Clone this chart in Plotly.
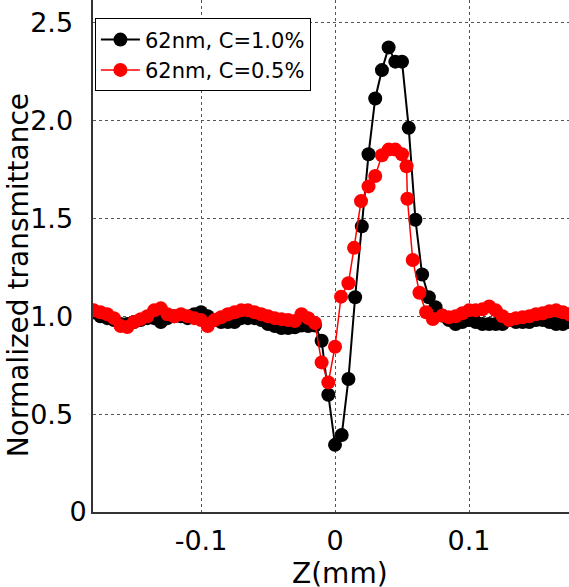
import plotly.graph_objects as go

# Z positions (mm)
z_black = [round(-0.18 + 0.005 * i, 3) for i in range(72)]
t_black = [
    1.02, 1.00, 0.99, 0.98, 0.96, 0.96, 0.97, 0.98, 0.99, 0.99,
    0.97, 0.99, 1.00, 1.00, 0.99, 1.01, 1.02, 1.00, 0.98, 0.97,
    0.97, 0.97, 0.99, 0.99, 0.99, 0.98, 0.96, 0.95, 0.94, 0.94,
    0.943, 0.952, 0.95, 0.952, 0.875, 0.599, 0.343, 0.393, 0.679, 1.097,
    1.459, 1.827, 2.112, 2.257, 2.373, 2.30, 2.30, 1.962, 1.493, 1.213,
    1.097, 1.046, 1.003, 0.98, 0.96, 0.97, 0.98, 0.97, 0.96, 0.96,
    0.96, 0.96, 0.98, 0.97, 0.97, 0.97, 0.98, 0.98, 0.97, 0.96,
    0.96, 0.97,
]

z_red = [round(-0.18 + 0.005 * i, 3) for i in range(34)] + [
    -0.01, -0.005, 0.0, 0.0045, 0.01, 0.0142, 0.0194, 0.025, 0.03, 0.035,
    0.04, 0.045, 0.05, 0.0534, 0.054, 0.058, 0.063, 0.068, 0.073, 0.08,
] + [round(0.085 + 0.005 * i, 3) for i in range(19)]
t_red = [
    1.03, 1.02, 1.01, 0.99, 0.95, 0.945, 0.97, 0.985, 1.00, 1.03,
    1.04, 1.01, 1.00, 1.01, 1.00, 0.99, 0.98, 0.95, 0.98, 0.995,
    1.01, 1.02, 1.03, 1.03, 1.02, 1.01, 1.00, 0.99, 0.985, 0.98,
    0.975, 1.01, 0.99, 0.965,
    0.764, 0.662, 0.844, 1.10, 1.168, 1.349, 1.588, 1.663, 1.716, 1.822,
    1.851, 1.851, 1.827, 1.766, 1.60, 1.287, 1.12, 1.02, 0.986, 1.003,
    0.995, 1.00, 1.015, 1.03, 1.03, 1.035, 1.05, 1.03, 1.00, 0.98,
    0.99, 0.995, 1.00, 1.01, 1.015, 1.025, 1.03, 1.02, 1.01,
]

x_tickvals = [-0.1, 0, 0.1]
x_ticktext = ["-0.1", "0", "0.1"]
y_tickvals = [0, 0.5, 1.0, 1.5, 2.0, 2.5]
y_ticktext = ["0", "0.5\u2002", "1.0\u2002", "1.5\u2002", "2.0\u2002", "2.5\u2002"]
x_title = "Z(mm)"
y_title = "Normalized transmittance"

FONT = "DejaVu Sans"

fig = go.Figure()
fig.add_trace(go.Scatter(
    x=z_black, y=t_black, mode="lines+markers", name="62nm, C=1.0%",
    line=dict(color="black", width=2),
    marker=dict(color="black", size=14),
))
fig.add_trace(go.Scatter(
    x=z_red, y=t_red, mode="lines+markers", name="62nm, C=0.5%",
    line=dict(color="red", width=1.5),
    marker=dict(color="red", size=14),
))

grid = dict(showgrid=True, gridcolor="#555555", gridwidth=1.2, griddash="dot")

fig.update_layout(
    width=569, height=587,
    margin=dict(l=93, r=0, t=0, b=75, autoexpand=False),
    plot_bgcolor="white", paper_bgcolor="white",
    font=dict(family=FONT, color="black"),
    showlegend=True,
    legend=dict(
        x=0.004, y=0.964, xanchor="left", yanchor="top",
        bgcolor="white", bordercolor="black", borderwidth=1,
        font=dict(size=21, family=FONT),
        tracegroupgap=0, itemwidth=39,
    ),
    xaxis=dict(
        range=[-0.1806, 0.1746], tickvals=x_tickvals, ticktext=x_ticktext,
        tickfont=dict(size=27), ticks="", showline=True, linecolor="#333333",
        linewidth=2, zeroline=False, automargin=False, ticklabelstandoff=4,
        **grid,
    ),
    yaxis=dict(
        range=[0, 2.615], tickvals=y_tickvals, ticktext=y_ticktext,
        tickfont=dict(size=27), ticks="", showline=True, linecolor="#333333",
        linewidth=2, zeroline=False, ticklabelstandoff=-1, automargin=False,
        **grid,
    ),
    annotations=[
        dict(text=x_title, xref="paper", yref="paper", x=0.519, y=-0.121,
             xanchor="center", yanchor="middle", showarrow=False,
             font=dict(size=28, family=FONT)),
        dict(text=y_title, xref="paper", yref="paper", x=-0.155, y=0.463,
             xanchor="center", yanchor="middle", showarrow=False, textangle=-90,
             font=dict(size=28, family=FONT)),
    ],
)

fig.write_html(
    "out.html",
    config={"displayModeBar": False},
    post_script="document.body.style.margin='0';document.body.style.overflow='hidden';",
)
